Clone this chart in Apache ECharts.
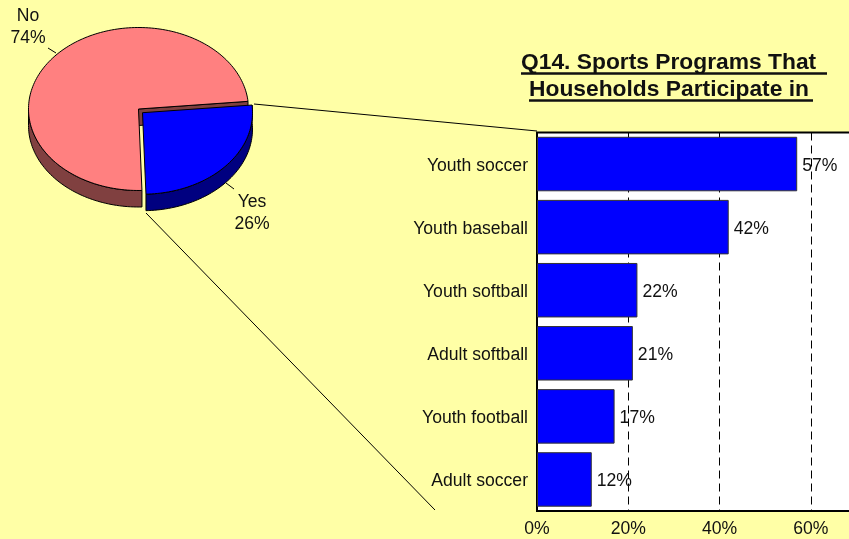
<!DOCTYPE html>
<html>
<head>
<meta charset="utf-8">
<style>html,body{margin:0;padding:0;background:#FFFFA6;overflow:hidden}#c{width:849px;height:539px}</style>
<script src="https://cdn.jsdelivr.net/npm/echarts@6/dist/echarts.min.js"></script>
</head>
<body>
<div id="c"></div>
<script>
// Q14 household sports participation
const pieNames = ['No', 'Yes'];
const pieShares = [74, 26];
const categories = ['Youth soccer', 'Youth baseball', 'Youth softball', 'Adult softball', 'Youth football', 'Adult soccer'];
const programShares = [57, 42, 22, 21, 17, 12];
const xTickLabels = ['0%', '20%', '40%', '60%'];
const titleLines = ['Q14. Sports Programs That ', 'Households Participate in'];

const FONT = '"Liberation Sans", Arial, sans-serif';
const INK = '#111';
const LABEL_SIZE = 17.6;

// Tilted pie geometry: ellipse centre, radii, wall depth and the exploded offset.
const PIE = { cx: 138.5, cy: 109, rx: 110, ry: 81.5, depth: 16.5, dx: 4, dy: 3.7, yesStart: -5.4 };
const rad = d => d * Math.PI / 180;
const onRim = (t, ox, oy) => [PIE.cx + ox + PIE.rx * Math.cos(rad(t)), PIE.cy + oy + PIE.ry * Math.sin(rad(t))];
function arcPoints(from, to, ox, oy) {
  const pts = [];
  const n = Math.max(2, Math.ceil(Math.abs(to - from) / 1.5));
  for (let i = 0; i <= n; i++) pts.push(onRim(from + (to - from) * i / n, ox, oy));
  return pts;
}
function poly(points, fill) {
  return { type: 'polygon', shape: { points }, style: { fill, stroke: '#000', lineWidth: 1, lineJoin: 'round' } };
}
function label(name, share, x, y) {
  return { type: 'text', style: { text: name + '\n' + share + '%', x, y, fill: INK, font: LABEL_SIZE + 'px ' + FONT, align: 'center', verticalAlign: 'middle', lineHeight: 22 } };
}
function leader(x1, y1, x2, y2) {
  return { type: 'line', shape: { x1, y1, x2, y2 }, style: { stroke: '#000', lineWidth: 1 } };
}

function renderSlice(params, api) {
  const total = pieShares.reduce((a, b) => a + b, 0);
  const yesSweep = pieShares[1] / total * 360;
  const yesEnd = PIE.yesStart + yesSweep;
  const d = PIE.depth;
  const name = pieNames[params.dataIndex];
  const share = api.value(0);
  if (name === 'No') {
    const apex = [PIE.cx, PIE.cy];
    const end = onRim(PIE.yesStart, 0, 0);
    const wallTop = arcPoints(yesEnd, 180, 0, 0);
    const wallBottom = arcPoints(180, yesEnd, 0, d);
    return { type: 'group', children: [
      poly(wallTop.concat(wallBottom), '#804040'),
      poly([apex, end, [end[0], end[1] + d], [apex[0], apex[1] + d]], '#804040'),
      poly([apex].concat(arcPoints(yesEnd, PIE.yesStart + 360, 0, 0)), '#FF8080'),
      leader(48, 48, 56, 53),
      label(name, share, 28, 27)
    ] };
  }
  const ox = PIE.dx, oy = PIE.dy;
  const apex = [PIE.cx + ox, PIE.cy + oy];
  const wallTop = arcPoints(PIE.yesStart, yesEnd, ox, oy);
  const wallBottom = arcPoints(yesEnd, PIE.yesStart, ox, oy + d);
  return { type: 'group', children: [
    poly(wallTop.concat(wallBottom), '#000080'),
    poly([apex].concat(wallTop), '#0000FF'),
    leader(226, 183, 234, 189),
    label(name, share, 252, 213)
  ] };
}

const chart = echarts.init(document.getElementById('c'), null, { renderer: 'canvas' });
chart.setOption({
  animation: false,
  backgroundColor: '#FFFFA6',
  textStyle: { fontFamily: FONT },
  grid: { left: 537, top: 132.5, width: 365.2, height: 378.5, outerBoundsMode: 'none', show: true, backgroundColor: '#fff', borderColor: '#000', borderWidth: 2 },
  xAxis: {
    type: 'value', min: 0, max: 80, interval: 20,
    axisLine: { show: false }, axisTick: { show: false },
    axisLabel: { color: INK, fontSize: LABEL_SIZE, margin: 9, fontFamily: FONT, formatter: (v, i) => xTickLabels[i] || '' },
    splitLine: { show: true, lineStyle: { color: '#000', type: [8, 5], width: 1 } }
  },
  yAxis: {
    type: 'category', inverse: true, data: categories,
    axisLine: { show: false }, axisTick: { show: false },
    axisLabel: {
      margin: 9, formatter: '{name|{value}}',
      rich: { name: { color: INK, fontSize: LABEL_SIZE, fontFamily: FONT, padding: [4, 0, 0, 0] } }
    }
  },
  series: [
    {
      type: 'bar', data: programShares, barWidth: 54.5, z: 3,
      itemStyle: { color: '#0000FF', borderColor: '#333', borderWidth: 1 },
      label: { show: true, position: 'right', distance: 5, offset: [0, 2], color: INK, fontSize: LABEL_SIZE, fontFamily: FONT, formatter: '{c}%' }
    },
    {
      type: 'custom', coordinateSystem: 'none', z: 5, renderItem: renderSlice,
      data: pieShares.map(v => [v])
    }
  ],
  graphic: [
    { type: 'line', z: 4, shape: { x1: 254, y1: 104, x2: 537, y2: 131 }, style: { stroke: '#000', lineWidth: 1 } },
    { type: 'line', z: 4, shape: { x1: 146, y1: 213, x2: 435, y2: 510 }, style: { stroke: '#000', lineWidth: 1 } },
    { type: 'text', z: 6, style: { text: titleLines[0], x: 521, y: 63, fill: INK, font: 'bold 22.8px ' + FONT, align: 'left', verticalAlign: 'middle' } },
    { type: 'text', z: 6, style: { text: titleLines[1], x: 529, y: 90, fill: INK, font: 'bold 22.8px ' + FONT, align: 'left', verticalAlign: 'middle' } },
    { type: 'line', z: 6, shape: { x1: 521, y1: 73.5, x2: 827, y2: 73.5 }, style: { stroke: INK, lineWidth: 2.5 } },
    { type: 'line', z: 6, shape: { x1: 529, y1: 100.5, x2: 813, y2: 100.5 }, style: { stroke: INK, lineWidth: 2.5 } }
  ]
});
</script>
</body>
</html>
